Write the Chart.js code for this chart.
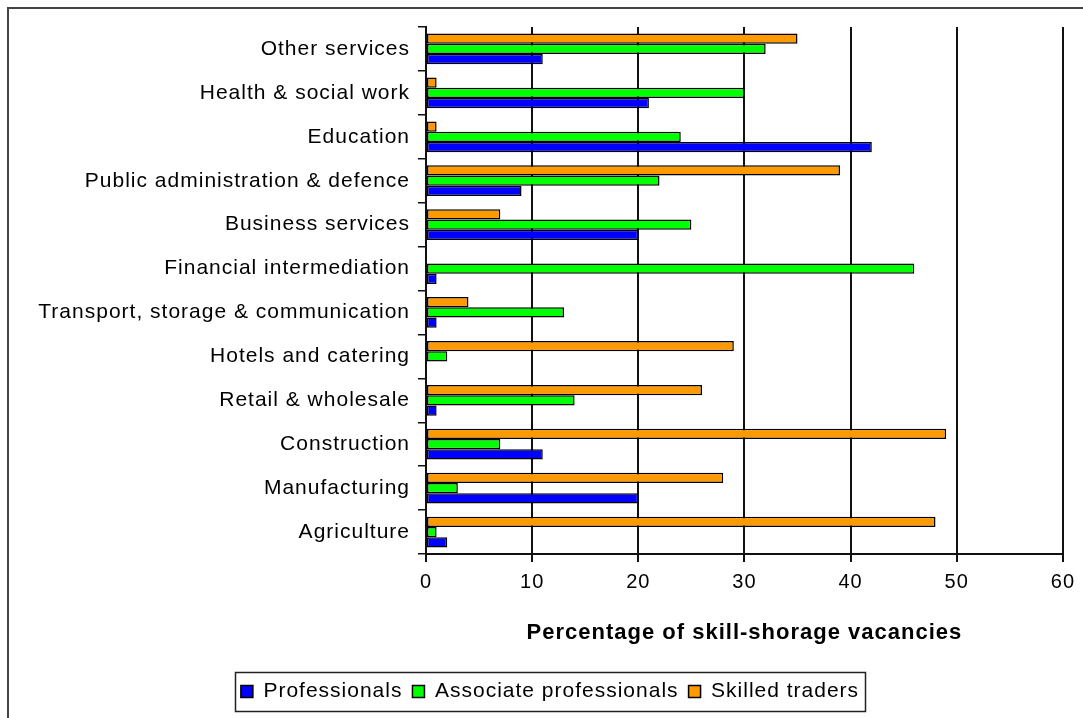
<!DOCTYPE html>
<html>
<head>
<meta charset="utf-8">
<script src="https://cdn.jsdelivr.net/npm/chart.js@4/dist/chart.umd.min.js"></script>
<style>
  body { margin: 0; background: #fff; }
  #wrap { width: 1083px; height: 718px; position: relative; }
</style>
</head>
<body>
<div id="wrap"><canvas id="skillsChart"></canvas></div>
<script>
// categories, top to bottom as in the picture
const sectors = [
    'Other services',
    'Health & social work',
    'Education',
    'Public administration & defence',
    'Business services',
    'Financial intermediation',
    'Transport, storage & communication',
    'Hotels and catering',
    'Retail & wholesale',
    'Construction',
    'Manufacturing',
    'Agriculture'
];
const professionals = [11, 21, 42, 9, 20, 1, 1, 0, 1, 11, 20, 2];
const associateProfessionals = [32, 30, 24, 22, 25, 46, 13, 2, 14, 7, 3, 1];
const skilledTraders = [35, 1, 1, 39, 7, 0, 4, 29, 26, 49, 28, 48];
const xTicks = [0, 10, 20, 30, 40, 50, 60];

const FONT = "'Liberation Sans', Arial, sans-serif";

// the original text is spaced out a bit, canvas can do that too
const spacingPlugin = {
    id: 'spacing',
    beforeLayout(chart) { chart.ctx.letterSpacing = '1px'; },
    beforeDraw(chart) { chart.ctx.letterSpacing = '1px'; }
};

// white page + the outer frame (left/top edges only, rest is cut off)
const framePlugin = {
    id: 'frame',
    beforeDraw(chart) {
        const ctx = chart.ctx;
        ctx.save();
        ctx.fillStyle = '#fff';
        ctx.fillRect(0, 0, chart.width, chart.height);
        ctx.strokeStyle = '#444';
        ctx.lineWidth = 2;
        ctx.beginPath();
        ctx.moveTo(8, chart.height);
        ctx.lineTo(8, 8);
        ctx.lineTo(chart.width, 8);
        ctx.stroke();
        ctx.restore();
    }
};

// box around the legend
const legendBoxPlugin = {
    id: 'legendBox',
    afterDraw(chart) {
        const boxes = chart.legend && chart.legend.legendHitBoxes;
        if (!boxes || !boxes.length) return;
        const left = Math.min(...boxes.map(b => b.left)) - 6;
        const right = Math.max(...boxes.map(b => b.left + b.width)) + 6;
        const top = Math.min(...boxes.map(b => b.top)) - 9;
        const bottom = Math.max(...boxes.map(b => b.top + b.height)) + 9;
        const ctx = chart.ctx;
        ctx.save();
        ctx.strokeStyle = '#222';
        ctx.lineWidth = 1.5;
        ctx.strokeRect(Math.round(left) + 0.5, Math.round(top) + 0.5, Math.round(right - left), Math.round(bottom - top));
        ctx.restore();
    }
};

new Chart(document.getElementById('skillsChart'), {
    type: 'bar',
    data: {
        labels: sectors,
        // reversed so blue sits at the bottom of each group, legend flips it back
        datasets: [{
            label: 'Skilled traders',
            data: skilledTraders,
            backgroundColor: '#FF9900'
        }, {
            label: 'Associate professionals',
            data: associateProfessionals,
            backgroundColor: '#00FF00'
        }, {
            label: 'Professionals',
            data: professionals,
            backgroundColor: '#0000FF'
        }]
    },
    options: {
        indexAxis: 'y',
        responsive: true,
        maintainAspectRatio: false,
        animation: false,
        layout: { padding: { left: 37, top: 27, right: 20, bottom: 6 } },
        datasets: {
            bar: {
                borderColor: '#000',
                borderWidth: 1.5,
                borderSkipped: false,
                categoryPercentage: 0.7,
                barPercentage: 1.0
            }
        },
        scales: {
            x: {
                min: 0,
                max: 60,
                afterBuildTicks(scale) {
                    scale.ticks = xTicks.map(v => ({ value: v }));
                },
                afterFit(scale) { scale.height = 117; },
                grid: {
                    color: '#111',
                    lineWidth: 2,
                    tickLength: 8,
                    drawTicks: true
                },
                border: { display: true, color: '#111', width: 2 },
                ticks: {
                    color: '#000',
                    padding: 8,
                    font: { family: FONT, size: 20 }
                },
                title: {
                    display: true,
                    text: 'Percentage of skill-shorage vacancies',
                    color: '#000',
                    padding: { top: 14, bottom: 25 },
                    font: { family: FONT, size: 22, weight: 'bold' }
                }
            },
            y: {
                afterFit(scale) { scale.width = 389; },
                grid: {
                    offset: true,
                    drawOnChartArea: false,
                    color: '#111',
                    tickLength: 8,
                    lineWidth: 1.5
                },
                border: { display: true, color: '#111', width: 2 },
                ticks: {
                    color: '#000',
                    padding: 8,
                    font: { family: FONT, size: 21 }
                }
            }
        },
        plugins: {
            legend: {
                position: 'bottom',
                reverse: true,
                labels: {
                    color: '#000',
                    boxWidth: 12,
                    boxHeight: 12,
                    padding: 10,
                    font: { family: FONT, size: 21 }
                }
            },
            tooltip: { enabled: false }
        }
    },
    plugins: [spacingPlugin, framePlugin, legendBoxPlugin]
});
</script>
</body>
</html>
